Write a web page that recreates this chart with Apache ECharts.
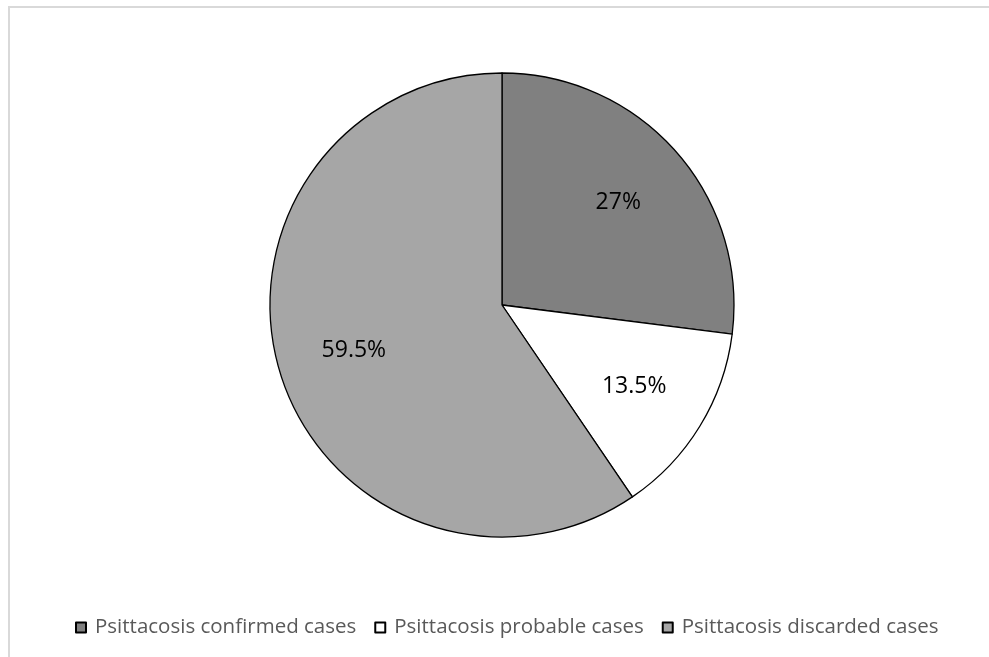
<!DOCTYPE html>
<html>
<head>
<meta charset="utf-8">
<script src="https://cdn.jsdelivr.net/npm/echarts@6/dist/echarts.min.js"></script>
<style>
html,body{margin:0;padding:0;background:#fff;}
#main{width:989px;height:657px;}
</style>
</head>
<body>
<div id="main"></div>
<script>
const categories = ['Psittacosis confirmed cases', 'Psittacosis probable cases', 'Psittacosis discarded cases'];
const percentValues = [27, 13.5, 59.5];
const sliceColors = ['#808080', '#ffffff', '#a6a6a6'];

const chart = echarts.init(document.getElementById('main'), null, {renderer: 'canvas'});

const pieData = categories.map((name, i) => ({
  name: name,
  value: percentValues[i],
  itemStyle: {color: sliceColors[i]}
}));

const labelData = categories.map((name, i) => ({
  name: name,
  value: percentValues[i]
}));

chart.setOption({
  animation: false,
  backgroundColor: '#ffffff',
  graphic: [{
    type: 'rect',
    shape: {x: 9, y: 7, width: 2000, height: 2000},
    style: {fill: 'none', stroke: '#d9d9d9', lineWidth: 2},
    silent: true,
    z: 0
  }],
  legend: {
    data: categories,
    left: 70,
    top: 612,
    icon: 'rect',
    itemWidth: 10,
    itemHeight: 10,
    itemGap: 18,
    textStyle: {
      fontFamily: 'Open Sans',
      fontSize: 20.5,
      color: '#595959',
      padding: [0, 0, 0, 4]
    },
    selectedMode: false
  },
  series: [
    {
      type: 'pie',
      center: [502, 305],
      radius: [0, 232],
      startAngle: 90,
      clockwise: true,
      data: pieData,
      itemStyle: {borderColor: '#000000', borderWidth: 1.3},
      label: {show: false},
      labelLine: {show: false},
      emphasis: {disabled: true},
      silent: true
    },
    {
      type: 'pie',
      center: [502, 305],
      radius: [0, 304],
      startAngle: 90,
      clockwise: true,
      data: labelData,
      itemStyle: {color: 'rgba(0,0,0,0)', borderWidth: 0},
      label: {
        show: true,
        position: 'inside',
        formatter: '{c}%',
        fontFamily: 'Open Sans',
        fontSize: 23,
        color: '#000000'
      },
      labelLine: {show: false},
      emphasis: {disabled: true},
      silent: true,
      z: 3
    }
  ]
});
</script>
</body>
</html>
